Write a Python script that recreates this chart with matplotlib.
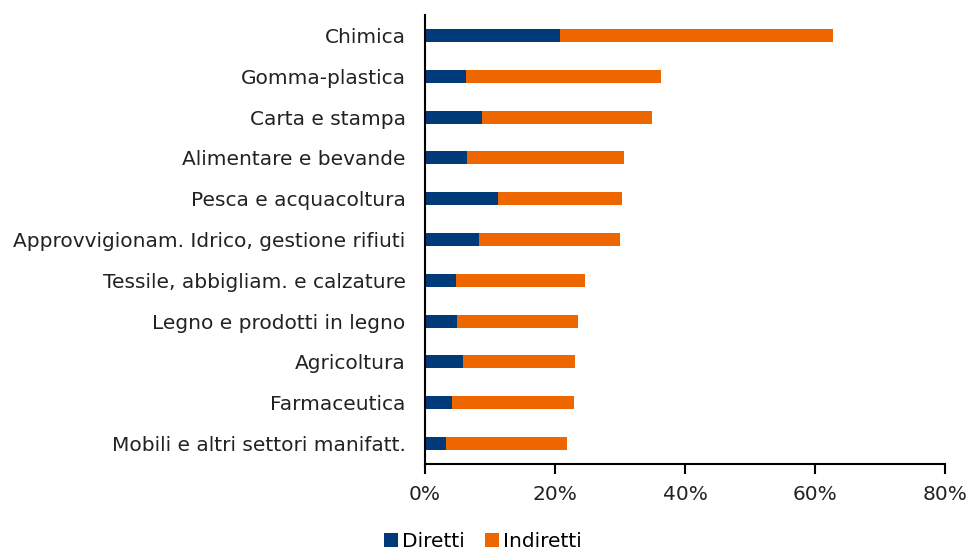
import matplotlib.pyplot as plt
from matplotlib.ticker import PercentFormatter

settori = ["Chimica", "Gomma-plastica", "Carta e stampa", "Alimentare e bevande",
           "Pesca e acquacoltura", "Approvvigionam. Idrico, gestione rifiuti",
           "Tessile, abbigliam. e calzature", "Legno e prodotti in legno",
           "Agricoltura", "Farmaceutica", "Mobili e altri settori manifatt."]
diretti = [20.8, 6.3, 8.8, 6.5, 11.3, 8.3, 4.8, 4.9, 5.8, 4.1, 3.3]
totale = [62.7, 36.3, 34.9, 30.6, 30.3, 30.0, 24.6, 23.6, 23.1, 22.9, 21.9]
indiretti = [t - d for t, d in zip(totale, diretti)]

blu = "#003A78"
arancio = "#EE6600"

plt.rcParams['font.family'] = ['DejaVu Sans']
fig = plt.figure(figsize=(9.66, 5.5), dpi=100)
ax = fig.add_axes([425/966, 1-464/550, 520/966, 449/550])

y = list(range(len(settori)))
ax.barh(y, diretti, height=0.32, color=blu, label="Diretti")
ax.barh(y, indiretti, left=diretti, height=0.32, color=arancio, label="Indiretti")

ax.set_ylim(len(settori) - 0.5, -0.5)
ax.set_xlim(0, 80)
ax.set_xticks([0, 20, 40, 60, 80])
ax.xaxis.set_major_formatter(PercentFormatter(decimals=0))
ax.set_yticks(y)
ax.set_yticklabels(settori)

for s in ["top", "right"]:
    ax.spines[s].set_visible(False)
ax.spines["left"].set_linewidth(1.5)
ax.spines["bottom"].set_linewidth(1.5)
ax.tick_params(axis="y", length=0, pad=14, labelsize=14.5, labelcolor="#222222")
ax.tick_params(axis="x", direction="out", length=7, width=1.5, pad=8,
               labelsize=14.5, labelcolor="#222222")

fig.legend(loc="lower center", bbox_to_anchor=(0.5, -0.035), ncol=2, frameon=False,
           fontsize=14.5, handlelength=0.7, handleheight=0.7, handletextpad=0.2,
           columnspacing=1.0)

fig.savefig("out.png", dpi=100)
